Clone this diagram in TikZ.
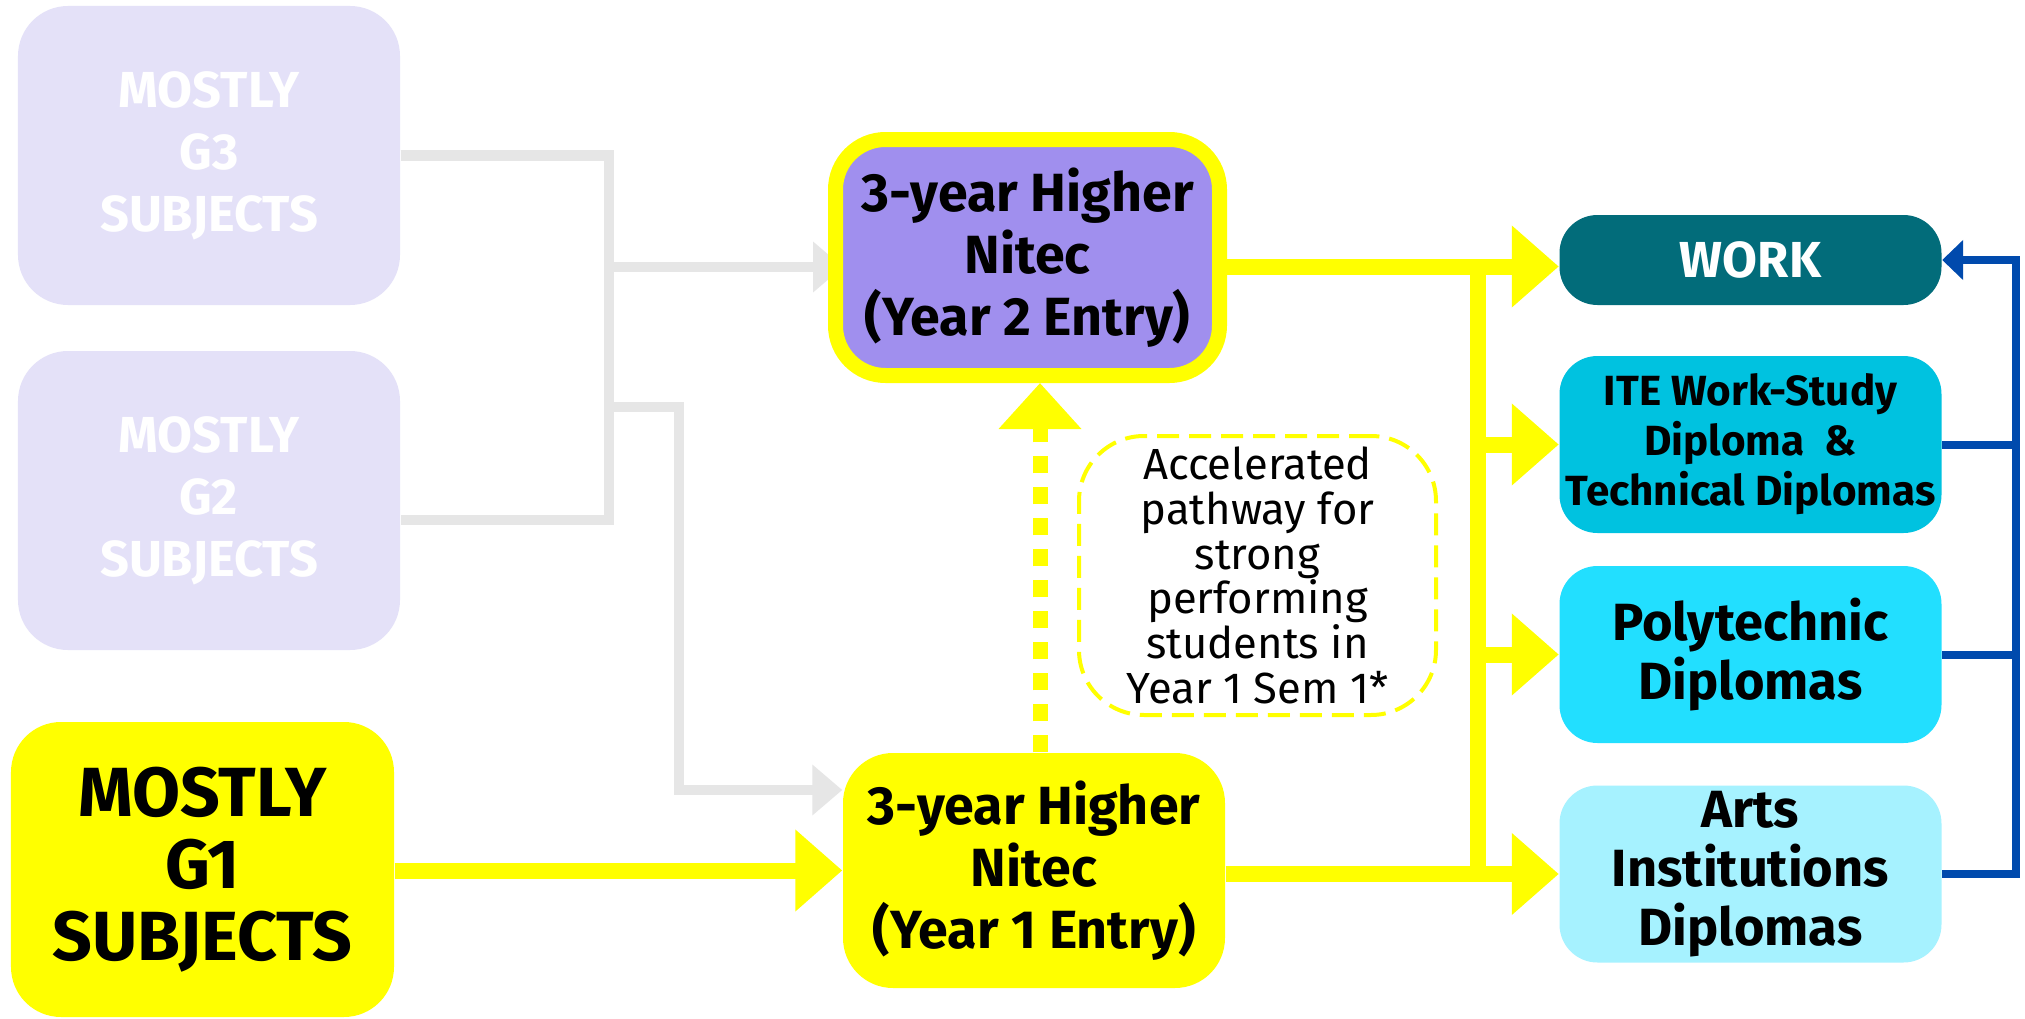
\documentclass[tikz,border=0pt]{standalone}
\usepackage{fontspec}
\setmainfont{Fira Sans}
\usetikzlibrary{arrows.meta,backgrounds}
\definecolor{subjgrey}{RGB}{228,225,248}
\definecolor{nitecpurple}{RGB}{160,143,238}
\definecolor{hlyellow}{RGB}{255,255,0}
\definecolor{workteal}{RGB}{2,108,122}
\definecolor{itecyan}{RGB}{0,194,224}
\definecolor{polycyan}{RGB}{34,223,255}
\definecolor{artscyan}{RGB}{166,242,255}
\definecolor{linegrey}{RGB}{230,230,230}
\definecolor{returnblue}{RGB}{0,74,173}

\begin{document}
\begin{tikzpicture}[
    box/.style={rounded corners=0.5cm, minimum width=3.82cm, align=center, inner sep=0pt, font=\bfseries},
    subj/.style={box, fill=subjgrey, text=white, minimum height=2.99cm, font=\bfseries\fontsize{14.4}{17.6}\selectfont},
    nitec/.style={box, minimum height=2.35cm, font=\bfseries\fontsize{15.3}{17.6}\selectfont},
    dest/.style={box, rounded corners=0.38cm, minimum height=1.77cm, font=\bfseries\fontsize{14.9}{16.8}\selectfont},
    yarrow/.style={-{Triangle[width=0.79cm,length=0.47cm]}, line width=0.16cm, hlyellow},
    yline/.style={line width=0.16cm, hlyellow},
    garrow/.style={-{Triangle[width=0.49cm,length=0.30cm]}, line width=0.1cm, linegrey},
    gline/.style={line width=0.1cm, linegrey},
    barrow/.style={-{Triangle[width=0.39cm,length=0.21cm]}, line width=0.08cm, returnblue},
    bline/.style={line width=0.08cm, returnblue}
]
    \useasboundingbox (0,0) rectangle (20.25,-10.19);

    % subjects on the left
    \node[subj] (g3) at (2.09,-1.555) {MOSTLY\\G3\\SUBJECTS};
    \node[subj] (g2) at (2.09,-5.005) {MOSTLY\\G2\\SUBJECTS};
    \node[box, fill=hlyellow, minimum width=3.83cm, minimum height=2.95cm, font=\bfseries\fontsize{19.8}{20.5}\selectfont] (g1) at (2.025,-8.695) {MOSTLY\\G1\\SUBJECTS};

    % Higher Nitec courses
    \node[nitec, fill=nitecpurple, draw=hlyellow, line width=0.15cm, minimum width=3.84cm, minimum height=2.36cm] (y2) at (10.275,-2.575) {3-year Higher\\Nitec\\(Year 2 Entry)};
    \node[nitec, fill=hlyellow] (y1) at (10.34,-8.705) {3-year Higher\\Nitec\\(Year 1 Entry)};
    \node[draw=hlyellow, line width=0.04cm, dash pattern=on 0.22cm off 0.1cm, rounded corners=0.65cm, minimum width=3.57cm, minimum height=2.79cm, align=center, inner sep=0pt, font=\fontsize{12.4}{12.7}\selectfont] (accel) at (12.575,-5.755) {Accelerated\\pathway for\\strong\\performing\\students in\\Year 1 Sem 1*};

    % destinations
    \node[dest, fill=workteal, text=white, minimum height=0.90cm, font=\bfseries\fontsize{14.4}{16}\selectfont] (work) at (17.505,-2.60) {WORK};
    \node[dest, fill=itecyan, font=\bfseries\fontsize{12}{14.2}\selectfont] (ite) at (17.505,-4.445) {ITE Work-Study\\Diploma \ \&\\Technical Diplomas};
    \node[dest, fill=polycyan] (poly) at (17.505,-6.545) {Polytechnic\\Diplomas};
    \node[dest, fill=artscyan] (arts) at (17.505,-8.74) {Arts\\Institutions\\Diplomas};

    \coordinate (gbus) at (6.09,0);
    \coordinate (gknee) at (6.79,-4.07);
    \coordinate (ybus) at (14.78,0);
    \coordinate (bbus) at (20.16,0);

    % grey links run under the boxes
    \begin{scope}[on background layer]
        \fill[white] (0,0) rectangle (20.25,-10.19);
        \draw[gline] (g3.east) -| ([yshift=-0.19cm]g2.east -| gbus) -- ([yshift=-0.19cm]g2.east);
        \draw[garrow] ([yshift=-0.095cm]y2.west -| gbus) -- ([xshift=0.15cm,yshift=-0.095cm]y2.west);
        \draw[garrow] (gknee -| gbus) -- (gknee) |- ([yshift=0.805cm]y1.west);
    \end{scope}

    \draw[yarrow] (g1.east |- y1.west) -- (y1.west);
    \draw[yarrow] ([yshift=-0.09cm]y2.east) -- ([yshift=-0.09cm]y2.east -| work.west);
    \draw[yline] ([yshift=-0.09cm]y2.east -| ybus) -- (ybus |- arts.west);
    \draw[yarrow] (ybus |- ite.west) -- (ite.west);
    \draw[yarrow] (ybus |- poly.west) -- (poly.west);
    \draw[yarrow] (y1.east |- arts.west) -- (arts.west);
    % dashed accelerated route
    \draw[yarrow, -{Triangle[width=0.8cm,length=0.46cm]}, line width=0.15cm, dash pattern=on 0.17cm off 0.14cm] ([xshift=0.06cm]y1.north) -- ([xshift=0.06cm]y1.north |- y2.south);

    % back to work
    \draw[barrow] (arts.east) -| (bbus |- work.east) -- (work.east);
    \draw[bline] (ite.east) -- (ite.east -| bbus);
    \draw[bline] (poly.east) -- (poly.east -| bbus);
\end{tikzpicture}
\end{document}
